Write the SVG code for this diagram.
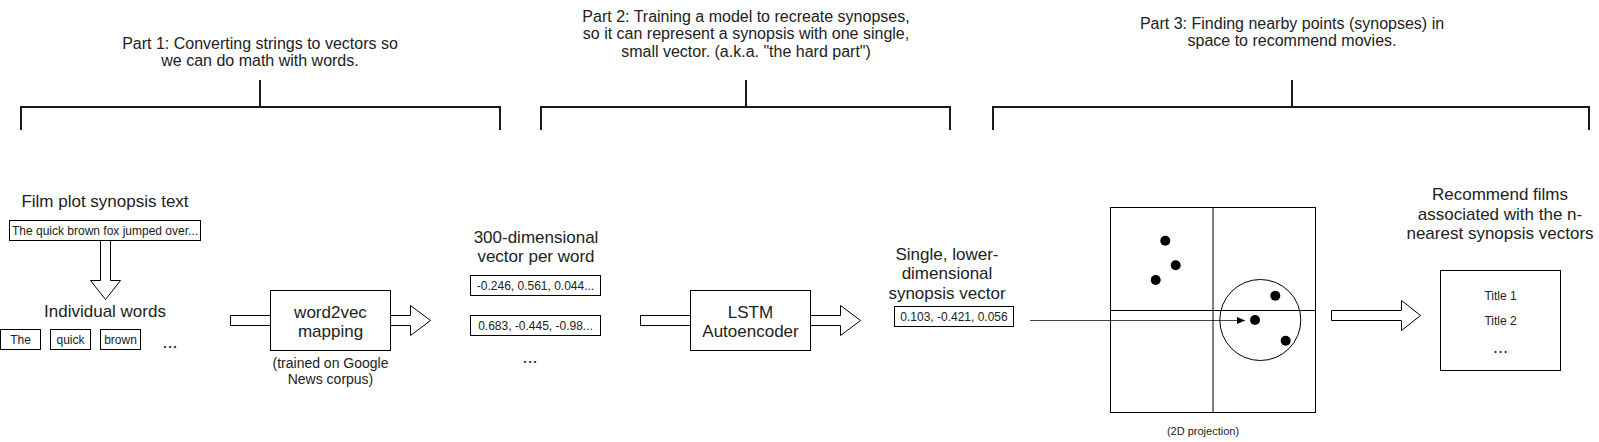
<svg xmlns="http://www.w3.org/2000/svg" width="1599" height="442" viewBox="0 0 1599 442">
<style>
text{font-family:"Liberation Sans",Arial,Helvetica,sans-serif;fill:#222;text-anchor:middle}
.t16{font-size:16px}
.t17{font-size:17px}
.t14{font-size:14px}
.t12{font-size:12px}
.t11{font-size:11px}
.dots{font-size:18px}
.box{fill:#fff;stroke:#000;stroke-width:1}
.brk{fill:none;stroke:#1a1a1a;stroke-width:2}
.barrow{fill:#fff;stroke:#000;stroke-width:1}
.dot{fill:#000}
</style>
<defs>
<marker id="ah" markerUnits="userSpaceOnUse" markerWidth="8" markerHeight="7" refX="8" refY="3.5" orient="auto">
<path d="M0,0 L8,3.5 L0,7 z" fill="#000"/>
</marker>
</defs>
<rect width="1599" height="442" fill="#fff"/>

<g id="part1">
<text class="t16" x="260" y="48.5">Part 1: Converting strings to vectors so</text>
<text class="t16" x="260" y="66">we can do math with words.</text>
<path class="brk" d="M21,130 V107 H500 V130 M260,80 V107"/>
</g>
<g id="part2">
<text class="t16" x="746" y="21.5">Part 2: Training a model to recreate synopses,</text>
<text class="t16" x="746" y="39">so it can represent a synopsis with one single,</text>
<text class="t16" x="746" y="56.5">small vector. (a.k.a. "the hard part")</text>
<path class="brk" d="M541,130 V107 H950 V130 M746,80 V107"/>
</g>
<g id="part3">
<text class="t16" x="1292" y="28.5">Part 3: Finding nearby points (synopses) in</text>
<text class="t16" x="1292" y="46">space to recommend movies.</text>
<path class="brk" d="M993,130 V107 H1589 V130 M1292,80 V107"/>
</g>

<g id="connectors">
<polygon class="barrow" points="100.5,240.5 110.5,240.5 110.5,280.5 120.5,280.5 105.5,299.5 90.5,280.5 100.5,280.5"/>
<polygon class="barrow" points="230.5,315.5 410.5,315.5 410.5,305.5 430.5,320.5 410.5,335.5 410.5,325.5 230.5,325.5"/>
<polygon class="barrow" points="640.5,315.5 840.5,315.5 840.5,305.5 860.5,320.5 840.5,335.5 840.5,325.5 640.5,325.5"/>
<polygon class="barrow" points="1331.5,310.5 1401.5,310.5 1401.5,300.5 1420.5,315.5 1401.5,330.5 1401.5,320.5 1331.5,320.5"/>
<line x1="1030" y1="320.5" x2="1245" y2="320.5" stroke="#444" stroke-width="1" marker-end="url(#ah)"/>
</g>

<g id="synopsis">
<text class="t17" x="105" y="206.5">Film plot synopsis text</text>
<rect class="box" x="9.5" y="220.5" width="191" height="20"/>
<text class="t12" x="105" y="234.5">The quick brown fox jumped over...</text>
</g>

<g id="words">
<text class="t17" x="105" y="316.5">Individual words</text>
<rect class="box" x="0.5" y="329.5" width="40" height="20"/>
<text class="t12" x="20.5" y="343.5">The</text>
<rect class="box" x="50.5" y="329.5" width="40" height="20"/>
<text class="t12" x="70.5" y="343.5">quick</text>
<rect class="box" x="100.5" y="329.5" width="40" height="20"/>
<text class="t12" x="120.5" y="343.5">brown</text>
<text class="dots" x="170" y="348">...</text>
</g>

<g id="word2vec">
<rect class="box" x="270.5" y="290.5" width="120" height="60"/>
<text class="t17" x="330.5" y="317.5">word2vec</text>
<text class="t17" x="330.5" y="336.5">mapping</text>
<text class="t14" x="330.5" y="368">(trained on Google</text>
<text class="t14" x="330.5" y="384">News corpus)</text>
</g>

<g id="wordvectors">
<text class="t17" x="536" y="242.5">300-dimensional</text>
<text class="t17" x="536" y="261.5">vector per word</text>
<rect class="box" x="470.5" y="275.5" width="130" height="20"/>
<text class="t12" x="535.5" y="289.5">-0.246, 0.561, 0.044...</text>
<rect class="box" x="470.5" y="315.5" width="130" height="20"/>
<text class="t12" x="535.5" y="329.5">0.683, -0.445, -0.98...</text>
<text class="dots" x="530" y="363">...</text>
</g>

<g id="lstm">
<rect class="box" x="690.5" y="290.5" width="120" height="60"/>
<text class="t17" x="750.5" y="317.5">LSTM</text>
<text class="t17" x="750.5" y="336.5">Autoencoder</text>
</g>

<g id="synopsisvector">
<text class="t17" x="947" y="259.5">Single, lower-</text>
<text class="t17" x="947" y="279">dimensional</text>
<text class="t17" x="947" y="298.5">synopsis vector</text>
<rect class="box" x="894.5" y="306.5" width="119" height="20"/>
<text class="t12" x="954" y="320.5">0.103, -0.421, 0.056</text>
</g>

<g id="projection">
<rect x="1110.5" y="207.5" width="205" height="205" fill="none" stroke="#000" stroke-width="1"/>
<line x1="1213" y1="207.5" x2="1213" y2="412.5" stroke="#000" stroke-width="1"/>
<line x1="1110.5" y1="310.5" x2="1315.5" y2="310.5" stroke="#000" stroke-width="1"/>
<circle cx="1260.3" cy="320" r="40.5" fill="none" stroke="#000" stroke-width="1"/>
<circle class="dot" cx="1165.3" cy="240.7" r="5"/>
<circle class="dot" cx="1175.7" cy="265.3" r="5"/>
<circle class="dot" cx="1155.7" cy="280" r="5"/>
<circle class="dot" cx="1275.3" cy="295.7" r="5"/>
<circle class="dot" cx="1255" cy="320" r="5"/>
<circle class="dot" cx="1285.7" cy="340.7" r="5"/>
<text class="t11" x="1203" y="434.5">(2D projection)</text>
</g>

<g id="recommend">
<text class="t17" x="1500" y="200">Recommend films</text>
<text class="t17" x="1500" y="219.5">associated with the n-</text>
<text class="t17" x="1500" y="239">nearest synopsis vectors</text>
<rect class="box" x="1440.5" y="270.5" width="120" height="100"/>
<text class="t12" x="1500.5" y="300">Title 1</text>
<text class="t12" x="1500.5" y="324.5">Title 2</text>
<text class="dots" x="1500.5" y="353">...</text>
</g>
</svg>
